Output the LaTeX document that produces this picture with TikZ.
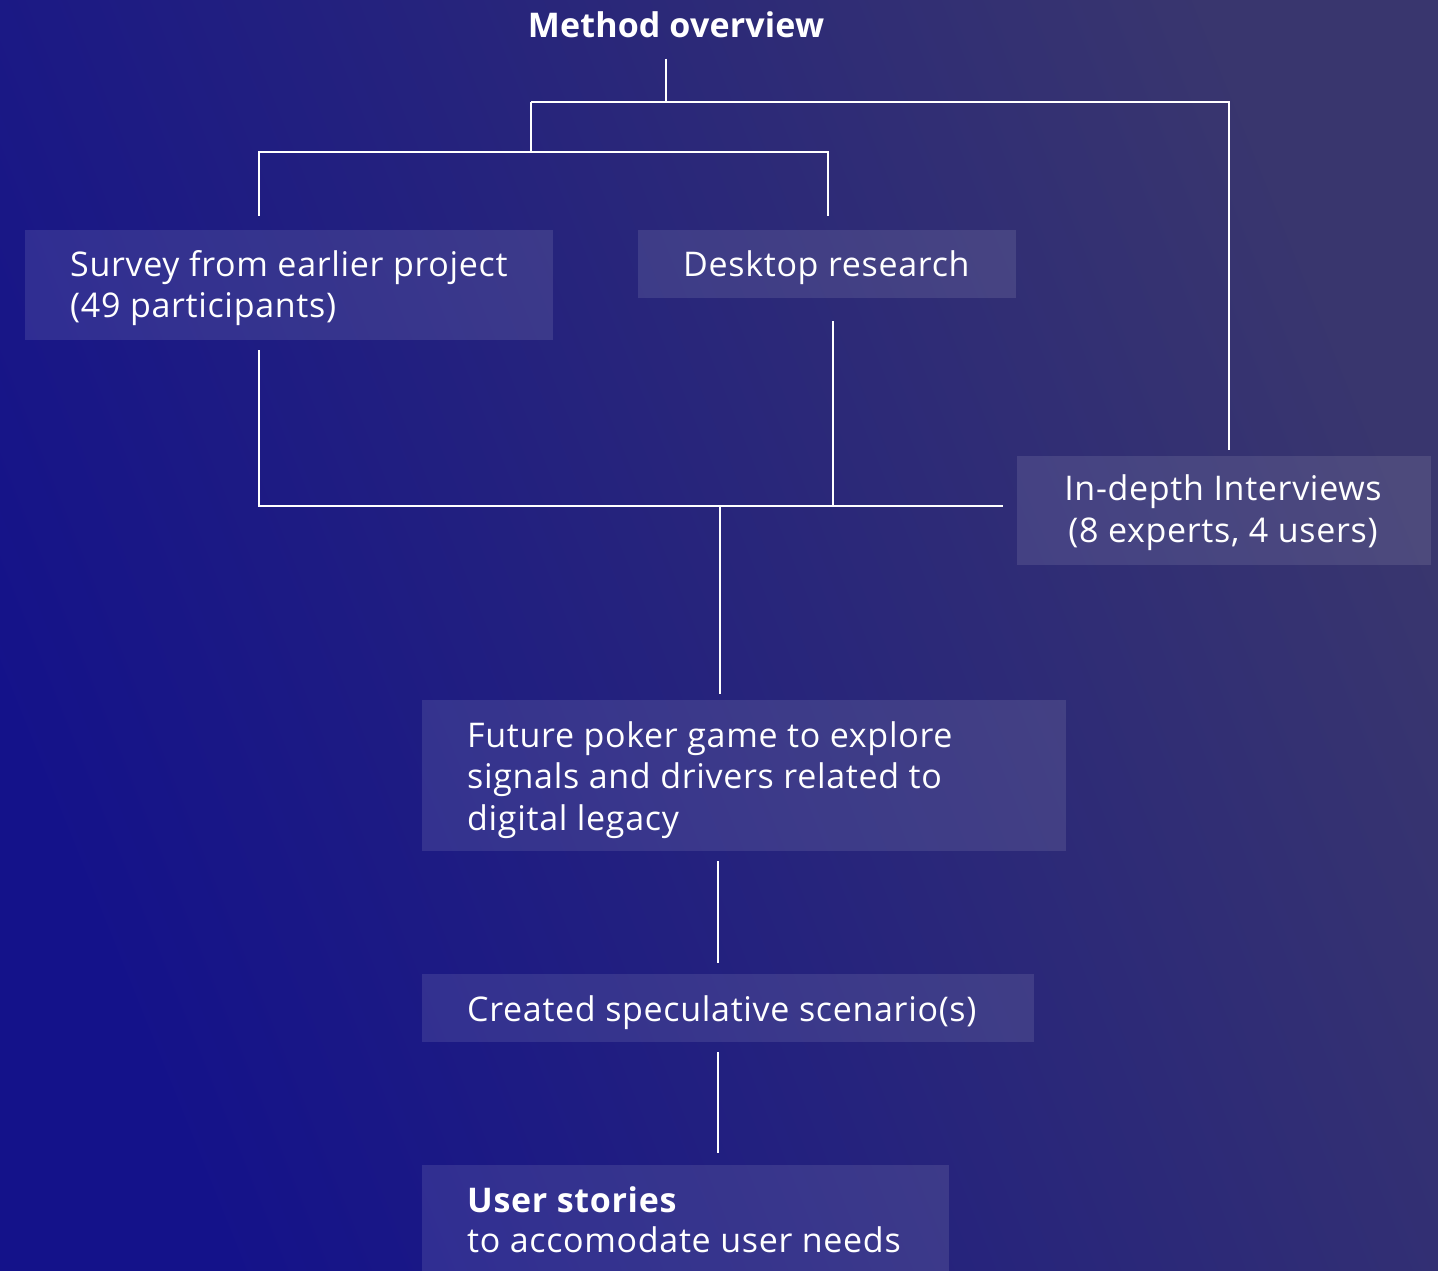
\documentclass[tikz,border=0pt]{standalone}
\usepackage{fontspec}
\setmainfont{Open Sans}[LetterSpace=2]
\usetikzlibrary{calc}

\definecolor{bgdark}{HTML}{14128A}
\definecolor{bglight}{HTML}{39366E}

\tikzset{
  wire/.style={draw=white, line width=2pt},
  panel/.style={fill=white, fill opacity=0.1, draw=none, inner sep=0pt, anchor=north west},
  boxtext/.style={text=white, font=\fontsize{34}{41.5}\selectfont, anchor=base west, align=left, inner sep=0pt},
}

\begin{document}
\begin{tikzpicture}[x=1pt, y=-1pt]
  % background
  \useasboundingbox (0,0) rectangle (1438,1270);
  \shade[top color=bglight, bottom color=bgdark, shading angle=-68] (0,0) rectangle (1438,1270);

  % title
  \node[text=white, font=\bfseries\fontsize{34}{40}\selectfont\addfontfeatures{LetterSpace=0.5}, anchor=base, inner sep=0pt] (title) at (676,37) {Method overview};

  % panels
  \node[panel, minimum width=528pt, minimum height=110pt] (survey) at (25,230) {};
  \node[panel, minimum width=378pt, minimum height=68pt] (desktop) at (638,230) {};
  \node[panel, minimum width=414pt, minimum height=109pt] (interviews) at (1017,456) {};
  \node[panel, minimum width=644pt, minimum height=151pt] (poker) at (422,700) {};
  \node[panel, minimum width=612pt, minimum height=68pt] (scenario) at (422,974) {};
  \node[panel, minimum width=527pt, minimum height=120pt] (stories) at (422,1165) {};

  % panel texts (multi-line nodes are placed by the baseline of their last line)
  \node[boxtext] (surveytxt) at (70,317.5) {Survey from earlier project\\(49 participants)};
  \node[boxtext] (desktoptxt) at (683,276) {Desktop research};
  \node[boxtext, anchor=base, align=center] (interviewstxt) at (1223,542) {In-depth Interviews\\(8 experts, 4 users)};
  \node[boxtext] (pokertxt) at (467,830) {Future poker game to explore\\signals and drivers related to\\digital legacy};
  \node[boxtext] (scenariotxt) at (467,1021) {Created speculative scenario(s)};
  \node[boxtext] (storiestxt) at (467,1252) {\textbf{User stories}\\[-1.5pt]to accomodate user needs};

  % junctions
  \coordinate (hubA) at (666,102);
  \coordinate (hubB) at (531,102);
  \coordinate (hubC) at (1229,102);
  \coordinate (hubD) at (531,152);
  \coordinate (splitL) at (259,152);
  \coordinate (splitR) at (828,152);
  \coordinate (mergeL) at (259,506);
  \coordinate (mergeD) at (833,506);
  \coordinate (mergeC) at (720,506);
  \coordinate (spine) at (718,0);

  % connectors
  \draw[wire] ([yshift=-21pt]title.south -| hubA) -- (hubA);
  \draw[wire] (hubB) -- (hubC) -- ([yshift=6pt]interviews.north -| hubC);
  \draw[wire] (hubB) -- (hubD);
  \draw[wire] ([yshift=14pt]survey.north -| splitL) -- (splitL) -- (splitR) -- ([yshift=14pt]desktop.north -| splitR);
  \draw[wire] ([yshift=-10pt]survey.south -| mergeL) -- (mergeL) -- ([xshift=-14pt]interviews.west |- mergeL);
  \draw[wire] ([yshift=-23pt]desktop.south -| mergeD) -- (mergeD);
  \draw[wire] (mergeC) -- ([yshift=6pt]poker.north -| mergeC);
  \draw[wire] ([yshift=-10pt]poker.south -| spine) -- ([yshift=11pt]scenario.north -| spine);
  \draw[wire] ([yshift=-10pt]scenario.south -| spine) -- ([yshift=12pt]stories.north -| spine);
\end{tikzpicture}
\end{document}
